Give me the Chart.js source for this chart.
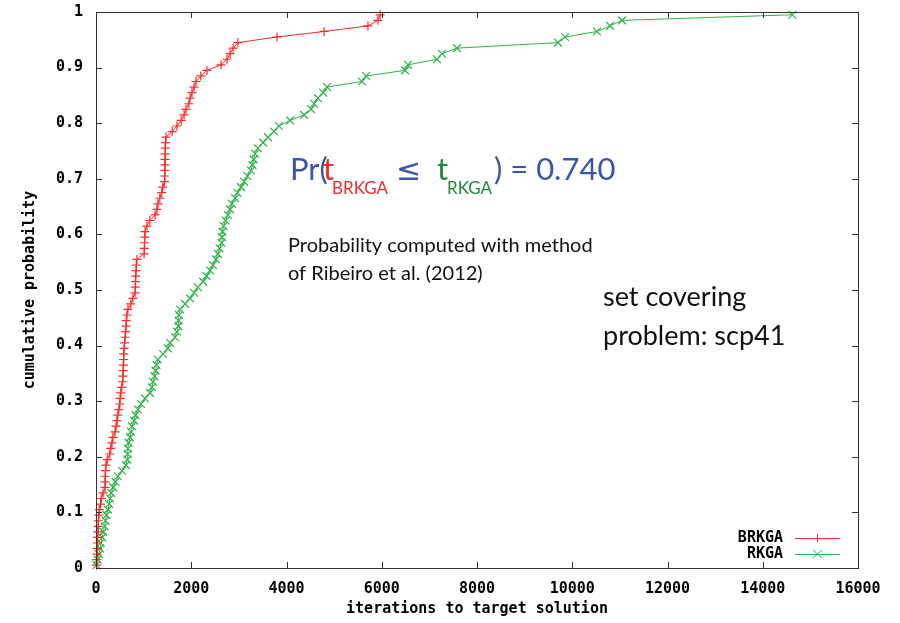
<!DOCTYPE html>
<html>
<head>
<meta charset="utf-8">
<script src="https://cdn.jsdelivr.net/npm/chart.js@4"></script>
<style>
  body { margin: 0; background: #fff; }
  #wrap { width: 900px; height: 623px; }
</style>
</head>
<body>
<div id="wrap"><canvas id="ttt"></canvas></div>
<script>
// cumulative probability of each sorted run, (i - 0.5) / 100
const probs = [
  0.005, 0.015, 0.025, 0.035, 0.045, 0.055, 0.065, 0.075, 0.085, 0.095,
  0.105, 0.115, 0.125, 0.135, 0.145, 0.155, 0.165, 0.175, 0.185, 0.195,
  0.205, 0.215, 0.225, 0.235, 0.245, 0.255, 0.265, 0.275, 0.285, 0.295,
  0.305, 0.315, 0.325, 0.335, 0.345, 0.355, 0.365, 0.375, 0.385, 0.395,
  0.405, 0.415, 0.425, 0.435, 0.445, 0.455, 0.465, 0.475, 0.485, 0.495,
  0.505, 0.515, 0.525, 0.535, 0.545, 0.555, 0.565, 0.575, 0.585, 0.595,
  0.605, 0.615, 0.625, 0.635, 0.645, 0.655, 0.665, 0.675, 0.685, 0.695,
  0.705, 0.715, 0.725, 0.735, 0.745, 0.755, 0.765, 0.775, 0.785, 0.795,
  0.805, 0.815, 0.825, 0.835, 0.845, 0.855, 0.865, 0.875, 0.885, 0.895,
  0.905, 0.915, 0.925, 0.935, 0.945, 0.955, 0.965, 0.975, 0.985, 0.995
];

// iterations to target, sorted
const brkgaIters = [
  10, 15, 20, 25, 30, 35, 40, 45, 50, 60,
  70, 95, 110, 150, 190, 190, 195, 200, 210, 235,
  290, 310, 335, 355, 400, 420, 440, 460, 480, 500,
  505, 520, 540, 560, 565, 570, 575, 580, 585, 590,
  600, 610, 620, 630, 635, 650, 670, 730, 775, 820,
  825, 830, 835, 840, 845, 860, 1010, 1015, 1020, 1025,
  1030, 1070, 1130, 1240, 1280, 1300, 1340, 1380, 1400, 1440,
  1442, 1445, 1448, 1450, 1452, 1455, 1460, 1470, 1600, 1700,
  1790, 1850, 1890, 1950, 1975, 2015, 2060, 2100, 2200, 2330,
  2625, 2750, 2815, 2880, 2980, 3800, 4790, 5710, 5920, 5965
];

const rkgaIters = [
  10, 35, 60, 85, 100, 135, 150, 180, 200, 220,
  250, 275, 295, 320, 360, 410, 460, 545, 630, 660,
  665, 670, 685, 715, 735, 755, 800, 830, 880, 945,
  1030, 1135, 1175, 1195, 1230, 1250, 1270, 1300, 1410, 1510,
  1555, 1660, 1700, 1730, 1735, 1740, 1765, 1870, 1975, 2060,
  2140, 2250, 2320, 2395, 2455, 2520, 2560, 2595, 2635, 2645,
  2655, 2680, 2720, 2770, 2815, 2855, 2920, 2970, 3045, 3110,
  3180, 3255, 3285, 3310, 3340, 3400, 3510, 3610, 3740, 3840,
  4075, 4370, 4515, 4580, 4660, 4770, 4850, 5585, 5670, 6490,
  6550, 7160, 7265, 7580, 9700, 9850, 10520, 10795, 11045, 14620
];

const xTickLabels = ['0', '2000', '4000', '6000', '8000', '10000', '12000', '14000', '16000'];
const yTickLabels = ['0', '0.1', '0.2', '0.3', '0.4', '0.5', '0.6', '0.7', '0.8', '0.9', '1'];

const RED = '#ff2a2a';
const GREEN = '#2fb24a';
const MONO = 'bold 15px "DejaVu Sans Mono"';

const toPoints = (xs) => xs.map((v, i) => ({ x: v, y: probs[i] }));

// gnuplot style frame with inward ticks on all four sides
const frameTicks = {
  id: 'frameTicks',
  afterDatasetsDraw(chart) {
    const { ctx, chartArea: a, scales } = chart;
    ctx.save();
    ctx.strokeStyle = '#333';
    ctx.lineWidth = 1;
    ctx.strokeRect(a.left + 0.5, a.top + 0.5, a.right - a.left, a.bottom - a.top);
    ctx.beginPath();
    scales.x.ticks.forEach(t => {
      const px = Math.round(scales.x.getPixelForValue(t.value)) + 0.5;
      ctx.moveTo(px, a.bottom); ctx.lineTo(px, a.bottom - 6);
      ctx.moveTo(px, a.top); ctx.lineTo(px, a.top + 6);
    });
    scales.y.ticks.forEach(t => {
      const py = Math.round(scales.y.getPixelForValue(t.value)) + 0.5;
      ctx.moveTo(a.left, py); ctx.lineTo(a.left + 6, py);
      ctx.moveTo(a.right, py); ctx.lineTo(a.right - 6, py);
    });
    ctx.stroke();
    ctx.restore();
  }
};

// axis titles, legend and the text notes
const notes = {
  id: 'notes',
  afterDraw(chart) {
    const { ctx, chartArea: a } = chart;
    ctx.save();
    ctx.fillStyle = '#000';
    ctx.font = MONO;
    ctx.textAlign = 'center';
    ctx.textBaseline = 'middle';
    ctx.fillText('iterations to target solution', (a.left + a.right) / 2, 609);
    ctx.save();
    ctx.translate(30, (a.top + a.bottom) / 2);
    ctx.rotate(-Math.PI / 2);
    ctx.fillText('cumulative probability', 0, 0);
    ctx.restore();

    // legend
    const rows = [
      { label: 'BRKGA', color: RED, y: 538, mark: 'plus' },
      { label: 'RKGA', color: GREEN, y: 554, mark: 'x' }
    ];
    rows.forEach(r => {
      ctx.fillStyle = '#000';
      ctx.textAlign = 'right';
      ctx.fillText(r.label, 783, r.y);
      ctx.strokeStyle = r.color;
      ctx.lineWidth = 1;
      ctx.beginPath();
      ctx.moveTo(795, r.y + 0.5); ctx.lineTo(840, r.y + 0.5);
      if (r.mark === 'plus') {
        ctx.moveTo(817.5, r.y - 4); ctx.lineTo(817.5, r.y + 4);
      } else {
        ctx.moveTo(813, r.y - 4); ctx.lineTo(822, r.y + 4);
        ctx.moveTo(813, r.y + 4); ctx.lineTo(822, r.y - 4);
      }
      ctx.stroke();
    });

    // Pr(t_BRKGA <= t_RKGA) = 0.740
    const BLUE = '#3b55a8';
    ctx.textAlign = 'left';
    ctx.textBaseline = 'alphabetic';
    ctx.font = '31px Lato';
    ctx.fillStyle = BLUE;
    ctx.fillText('Pr(', 290, 180);
    ctx.fillStyle = '#ee2b2b';
    ctx.fillText('t', 323, 180);
    ctx.font = '17px Lato';
    ctx.fillText('BRKGA', 332, 194);
    ctx.font = '30px "DejaVu Sans"';
    ctx.fillStyle = BLUE;
    ctx.fillText('\u2264', 396, 180);
    ctx.font = '31px Lato';
    ctx.fillStyle = '#1f8a3c';
    ctx.fillText('t', 437, 180);
    ctx.font = '17px Lato';
    ctx.fillText('RKGA', 447, 194);
    ctx.font = '31px Lato';
    ctx.fillStyle = BLUE;
    ctx.fillText(') = 0.740', 494, 180);

    ctx.fillStyle = '#111';
    ctx.font = '20px Lato';
    ctx.fillText('Probability computed with method', 288, 252);
    ctx.fillText('of Ribeiro et al. (2012)', 288, 280);

    ctx.font = '27px Lato';
    ctx.fillText('set covering', 603, 306);
    ctx.fillText('problem: scp41', 603, 345);
    ctx.restore();
  }
};

new Chart(document.getElementById('ttt'), {
  type: 'scatter',
  data: {
    datasets: [
      {
        label: 'BRKGA',
        data: toPoints(brkgaIters),
        showLine: true,
        borderColor: RED,
        backgroundColor: RED,
        borderWidth: 1,
        pointStyle: 'cross',
        pointRadius: 4.5,
        pointBorderWidth: 1.2,
        pointBorderColor: RED,
        clip: false
      },
      {
        label: 'RKGA',
        data: toPoints(rkgaIters),
        showLine: true,
        borderColor: GREEN,
        backgroundColor: GREEN,
        borderWidth: 1,
        pointStyle: 'crossRot',
        pointRadius: 5.5,
        pointBorderWidth: 1.2,
        pointBorderColor: GREEN,
        clip: false
      }
    ]
  },
  options: {
    responsive: true,
    maintainAspectRatio: false,
    animation: false,
    layout: { padding: { top: 12, right: 42, left: 0, bottom: 0 } },
    plugins: {
      legend: { display: false },
      tooltip: { enabled: false }
    },
    scales: {
      x: {
        type: 'linear',
        min: 0,
        max: 16000,
        grid: { display: false, drawTicks: false },
        border: { display: false },
        ticks: {
          stepSize: 2000,
          padding: 12,
          color: '#000',
          font: { family: 'DejaVu Sans Mono', size: 15, weight: 'bold' },
          maxRotation: 0,
          callback: (v) => xTickLabels[Math.round(v / 2000)]
        },
        afterFit: (s) => { s.height = 55; s.paddingLeft = 0; s.paddingRight = 0; }
      },
      y: {
        min: 0,
        max: 1,
        grid: { display: false, drawTicks: false },
        border: { display: false },
        ticks: {
          stepSize: 0.1,
          padding: 13,
          color: '#000',
          font: { family: 'DejaVu Sans Mono', size: 15, weight: 'bold' },
          callback: (v) => yTickLabels[Math.round(v * 10)]
        },
        afterFit: (s) => { s.width = 96; s.paddingTop = 0; s.paddingBottom = 0; }
      }
    }
  },
  plugins: [frameTicks, notes]
});
</script>
</body>
</html>
